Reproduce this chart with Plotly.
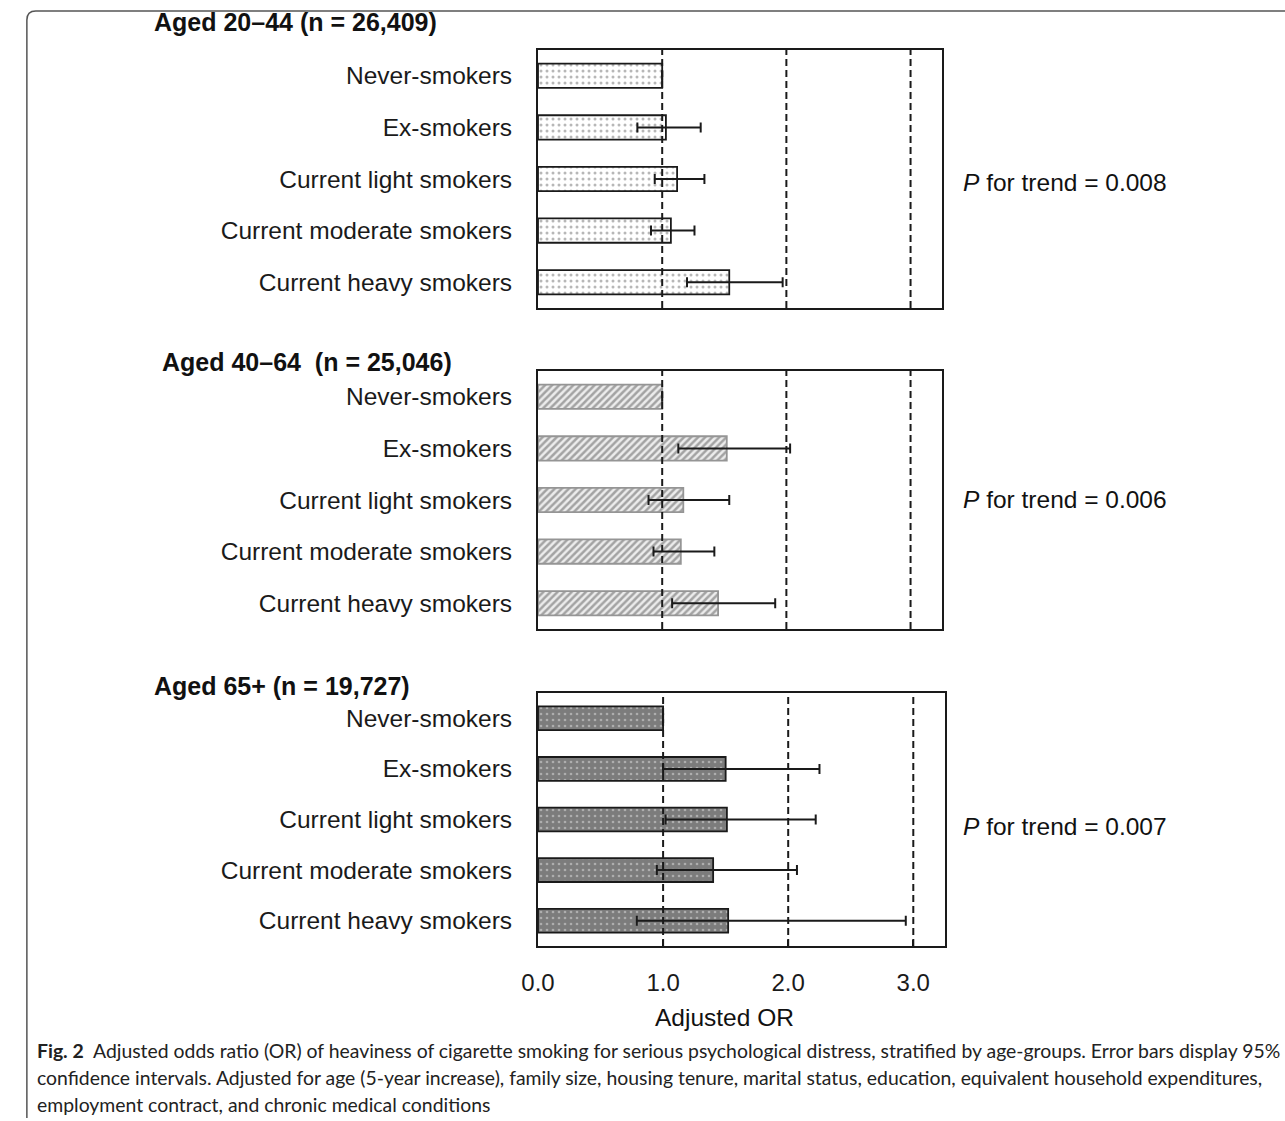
import plotly.graph_objects as go

W, H = 1285, 1121

categories = ["Never-smokers", "Ex-smokers", "Current light smokers",
              "Current moderate smokers", "Current heavy smokers"]

panel_titles = ["Aged 20–44 (n = 26,409)", "Aged 40–64&nbsp;&nbsp;(n = 25,046)", "Aged 65+ (n = 19,727)"]
p_trend = ["0.008", "0.006", "0.007"]

# Adjusted OR and 95% CI per age group
or_20_44 = [1.00, 1.03, 1.12, 1.07, 1.54]
lo_20_44 = [None, 0.80, 0.94, 0.91, 1.20]
hi_20_44 = [None, 1.31, 1.34, 1.26, 1.97]

or_40_64 = [1.00, 1.52, 1.17, 1.15, 1.45]
lo_40_64 = [None, 1.13, 0.89, 0.93, 1.08]
hi_40_64 = [None, 2.03, 1.54, 1.42, 1.91]

or_65 = [1.00, 1.50, 1.51, 1.40, 1.52]
lo_65 = [None, 1.00, 1.02, 0.95, 0.79]
hi_65 = [None, 2.25, 2.22, 2.07, 2.94]

x_ticks = [0, 1, 2, 3]
ref_lines = [1, 2, 3]

groups = [(or_20_44, lo_20_44, hi_20_44), (or_40_64, lo_40_64, hi_40_64), (or_65, lo_65, hi_65)]

def px(x):
    return x / W

def py(y):
    return 1 - y / H

# pixel geometry of panels
panel_y = [(50, 308), (371, 629), (693, 946)]
panel_x = [(528, 937), (528, 937), (528, 940)]
title_pos = [(137, 22), (145, 362), (137, 686)]
ptrend_y = [182, 500, 826]

patterns = [
    dict(shape=".", fgcolor="#707070", bgcolor="#ffffff", size=6, solidity=0.2),
    dict(shape="/", fgcolor="#5a5a5a", bgcolor="#ececec", size=5, solidity=0.5),
    dict(shape=".", fgcolor="#e0e0e0", bgcolor="#7c7c7c", size=6, solidity=0.15),
]
outline = ["#1a1a1a", "#959595", "#1a1a1a"]

fig = go.Figure()
font_main = "Liberation Sans, Arial, sans-serif"

for i, (vals, lo, hi) in enumerate(groups):
    plus = [None if h is None else h - v for v, h in zip(vals, hi)]
    minus = [None if l is None else v - l for v, l in zip(vals, lo)]
    xa = "x" if i == 0 else f"x{i+1}"
    ya = "y" if i == 0 else f"y{i+1}"
    fig.add_trace(go.Bar(
        x=vals, y=categories, orientation="h", width=0.47,
        marker=dict(color=patterns[i]["bgcolor"], pattern=patterns[i],
                    line=dict(color=outline[i], width=1.8)),
        error_x=dict(type="data", symmetric=False, array=plus, arrayminus=minus,
                     color="#1a1a1a", thickness=2, width=5),
        xaxis=xa, yaxis=ya, showlegend=False, hoverinfo="skip",
    ))
    xk = "xaxis" if i == 0 else f"xaxis{i+1}"
    yk = "yaxis" if i == 0 else f"yaxis{i+1}"
    y0, y1 = panel_y[i]
    x0, x1 = panel_x[i]
    last = (i == 2)
    fig.layout[xk] = dict(
        domain=[px(x0), px(x1)], range=[0, 3.25], anchor=ya,
        showline=True, mirror=True, linecolor="#1a1a1a", linewidth=1.8,
        showgrid=False, zeroline=False, fixedrange=True,
        tickvals=x_ticks, ticktext=[f"{t:.1f}" for t in x_ticks],
        showticklabels=last, ticks="inside" if last else "", ticklen=6,
        tickcolor="#1a1a1a", tickwidth=1.5, ticklabelstandoff=14,
        tickfont=dict(family=font_main, size=24, color="#1a1a1a"),
    )
    fig.layout[yk] = dict(
        domain=[py(y1), py(y0)], anchor=xa, type="category",
        categoryorder="array", categoryarray=categories, range=[4.5, -0.5],
        showline=True, mirror=True, linecolor="#1a1a1a", linewidth=2,
        showgrid=False, zeroline=False, ticks="", fixedrange=True,
        ticklabelstandoff=19,
        tickfont=dict(family=font_main, size=24.5, color="#1a1a1a"),
    )
    for v in ref_lines:
        fig.add_shape(type="line", xref=xa, yref=f"{ya} domain", x0=v, x1=v, y0=0, y1=1,
                      line=dict(color="#1a1a1a", width=2, dash="7px,4px"), layer="above")
    tx, tyy = title_pos[i]
    fig.add_annotation(text=f"<b>{panel_titles[i]}</b>", xref="paper", yref="paper",
                       x=px(tx), y=py(tyy), xanchor="left", yanchor="middle", showarrow=False,
                       font=dict(family=font_main, size=25, color="#111111"))
    fig.add_annotation(text=f"<i>P</i> for trend = {p_trend[i]}", xref="paper", yref="paper",
                       x=px(957), y=py(ptrend_y[i]), xanchor="left", yanchor="middle", showarrow=False,
                       font=dict(family=font_main, size=24.5, color="#111111"))

fig.add_annotation(text="Adjusted OR", xref="paper", yref="paper", x=px(717), y=py(1017),
                   xanchor="center", yanchor="middle", showarrow=False,
                   font=dict(family=font_main, size=24.5, color="#111111"))

caption = [
    "<b>Fig. 2</b>&nbsp;&nbsp;Adjusted odds ratio (OR) of heaviness of cigarette smoking for serious psychological distress, stratified by age-groups. Error bars display 95%",
    "confidence intervals. Adjusted for age (5-year increase), family size, housing tenure, marital status, education, equivalent household expenditures,",
    "employment contract, and chronic medical conditions",
]
cap_y = [1050, 1077, 1104]
for t, yy in zip(caption, cap_y):
    fig.add_annotation(text=t, xref="paper", yref="paper", x=px(18), y=py(yy),
                       xanchor="left", yanchor="middle", showarrow=False,
                       font=dict(family="Lato, sans-serif", size=19.4, color="#222222"))

# outer frame with rounded top-left corner
fig.add_shape(type="path", xref="paper", yref="paper",
              path=f"M {px(10)},{py(1118)} L {px(10)},{py(20)} Q {px(10)},{py(11)} {px(19)},{py(11)} L {px(1285)},{py(11)}",
              line=dict(color="#555555", width=1.5))

fig.update_layout(width=W, height=H, margin=dict(l=0, r=0, t=0, b=0),
                  paper_bgcolor="white", plot_bgcolor="white", bargap=0.5)

fig.write_html("out.html", config={"displayModeBar": False},
               post_script="document.body.style.margin='0px';document.body.style.overflow='hidden';")
